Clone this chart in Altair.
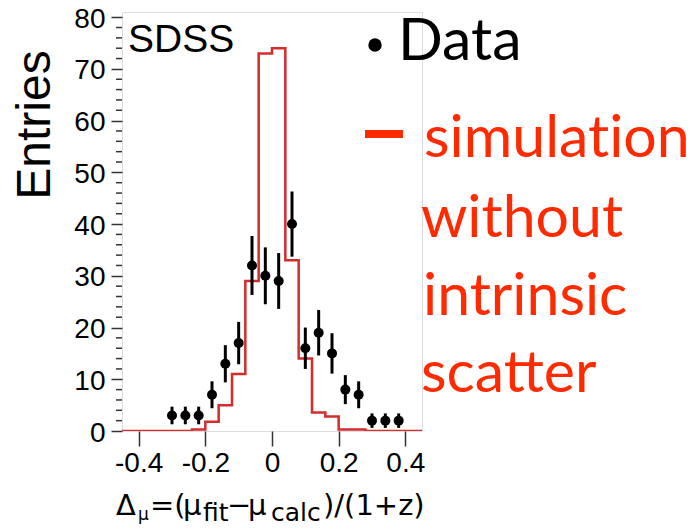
import altair as alt
import pandas as pd

# ---------------- data ----------------
data_x = [-0.30, -0.26, -0.22, -0.18, -0.14, -0.10, -0.06, -0.02, 0.02,
          0.06, 0.10, 0.14, 0.18, 0.22, 0.26, 0.30, 0.34, 0.38]
data_y = [3, 3, 3, 7, 13, 17, 32, 30, 29, 40, 16, 19, 15, 8, 7, 2, 2, 2]
data_err = [1.7, 1.7, 1.7, 2.6, 3.6, 4.1, 5.7, 5.5, 5.4, 6.3, 4.0, 4.4,
            3.9, 2.8, 2.6, 1.4, 1.4, 1.4]

hist_edges = [-0.45, -0.24, -0.20, -0.16, -0.12, -0.08, -0.04, 0.0, 0.04,
              0.08, 0.12, 0.16, 0.20, 0.28, 0.45]
hist_values = [0, 0.3, 1.8, 5, 11, 29, 73, 74, 33, 14, 3.6, 2.8, 0.3, 0]

y_major = [0, 10, 20, 30, 40, 50, 60, 70, 80]
y_minor = [v for v in range(2, 81, 2) if v % 10 != 0]
x_ticks = [-0.4, -0.2, 0, 0.2, 0.4]

# zero-width non-joiner keeps Lato from drawing a "ti" ligature
legend_labels = ["simulat\u200cion", "without", "intrinsic", "scatter"]

W, H = 300, 419
XDOM = [-0.45, 0.45]
YDOM = [0, 81.0]
HIST_RED = "#d42c2c"
LEG_RED = "#ff2a00"
FONT = "Liberation Sans"
TFONT = "DejaVu Sans"

xs = alt.Scale(domain=XDOM, nice=False, zero=False)
ys = alt.Scale(domain=YDOM, nice=False, zero=False)

# histogram as step line
hx = hist_edges
hy = hist_values + [hist_values[-1]]
hist_df = pd.DataFrame({"x": hx, "y": hy})
hist = alt.Chart(hist_df).mark_line(
    interpolate="step-after", color=HIST_RED, strokeWidth=2.5, clip=True
).encode(
    x=alt.X("x:Q", scale=xs, axis=alt.Axis(
        values=x_ticks, title=None, grid=False, domain=False,
        tickSize=15, tickWidth=1.5, tickColor="#333",
        labelFont=FONT, labelFontSize=28, labelColor="black", labelPadding=3,
        labelExpr="datum.value == 0 ? '0' : (datum.value < 0 ? '-' : '') + format(abs(datum.value), '.1f')")),
    y=alt.Y("y:Q", scale=ys, axis=alt.Axis(
        values=y_major, title=None, grid=False, domain=False,
        tickSize=11, tickWidth=1.5, tickColor="#333", labelOffset=2,
        labelFont=FONT, labelFontSize=28, labelColor="black", labelPadding=6)),
)

pts_df = pd.DataFrame({"x": data_x, "y": data_y, "err": data_err})
pts_df["lo"] = pts_df["y"] - pts_df["err"]
pts_df["hi"] = pts_df["y"] + pts_df["err"]

errbars = alt.Chart(pts_df).mark_rule(color="black", strokeWidth=3).encode(
    x=alt.X("x:Q", scale=xs), y=alt.Y("lo:Q", scale=ys), y2="hi:Q")
points = alt.Chart(pts_df).mark_circle(color="black", opacity=1, size=100).encode(
    x=alt.X("x:Q", scale=xs), y=alt.Y("y:Q", scale=ys))

minor_df = pd.DataFrame({"v": y_minor})
minor = alt.Chart(minor_df).mark_rule(color="#333", strokeWidth=1.5).encode(
    y=alt.Y("v:Q", scale=ys), x=alt.value(-6), x2=alt.value(0))


def txt(s, x, y, size, color="black", font=FONT, align="left", baseline="alphabetic", angle=0):
    return alt.Chart(pd.DataFrame({"t": [s]})).mark_text(
        font=font, fontSize=size, color=color, align=align, baseline=baseline, angle=angle
    ).encode(text="t:N", x=alt.value(x), y=alt.value(y))


OX, OY = 122, 12  # plot origin in page pixels

TB = 515   # title main baseline
SB = 521   # subscript baseline
texts = [
    txt("SDSS", 128 - OX, 52 - OY, 39),
    txt("Entries", 50 - OX, 125 - OY, 48, align="center", angle=270),
    # x-axis title pieces
    txt("Δ", 116 - OX, TB - OY, 29, font=TFONT),
    txt("μ", 138 - OX, SB - 1 - OY, 17, font=TFONT),
    txt("=(", 150 - OX, TB - OY, 29, font=TFONT),
    txt("μ", 183 - OX, TB - OY, 29, font=TFONT),
    txt("fit", 203 - OX, SB - OY, 25, font=TFONT),
    txt("−", 227 - OX, TB - OY, 29, font=TFONT),
    txt("μ", 248 - OX, TB - OY, 29, font=TFONT),
    txt("calc", 271 - OX, SB - OY, 25, font=TFONT),
    txt(")/(1+z)", 323 - OX, TB - OY, 29, font=TFONT),
    # legend
    txt("Data", 398 - OX, 60 - OY, 59, font="Lato"),
    txt(legend_labels[0], 424 - OX, 157 - OY, 59, color=LEG_RED, font="Lato"),
    txt(legend_labels[1], 421 - OX, 237 - OY, 59, color=LEG_RED, font="Lato"),
    txt(legend_labels[2], 423 - OX, 315 - OY, 59, color=LEG_RED, font="Lato"),
    txt(legend_labels[3], 421 - OX, 392 - OY, 59, color=LEG_RED, font="Lato"),
]

bullet = alt.Chart(pd.DataFrame({"k": ["Data"]})).mark_circle(
    color="black", opacity=1, size=180).encode(x=alt.value(375 - OX), y=alt.value(45 - OY))
dash = alt.Chart(pd.DataFrame({"k": ["sim"]})).mark_rule(
    color=LEG_RED, strokeWidth=8).encode(
    x=alt.value(365 - OX), x2=alt.value(403 - OX), y=alt.value(134 - OY))

chart = alt.layer(hist, minor, errbars, points, bullet, dash, *texts).properties(
    width=W, height=H,
    autosize=alt.AutoSizeParams(type="none"),
    padding={"left": 114, "top": 4, "right": 270, "bottom": 93},
).configure_view(stroke="#777", strokeWidth=1.5).configure(background="white")

chart.save("out.html", embed_options={"renderer": "svg", "actions": False})
